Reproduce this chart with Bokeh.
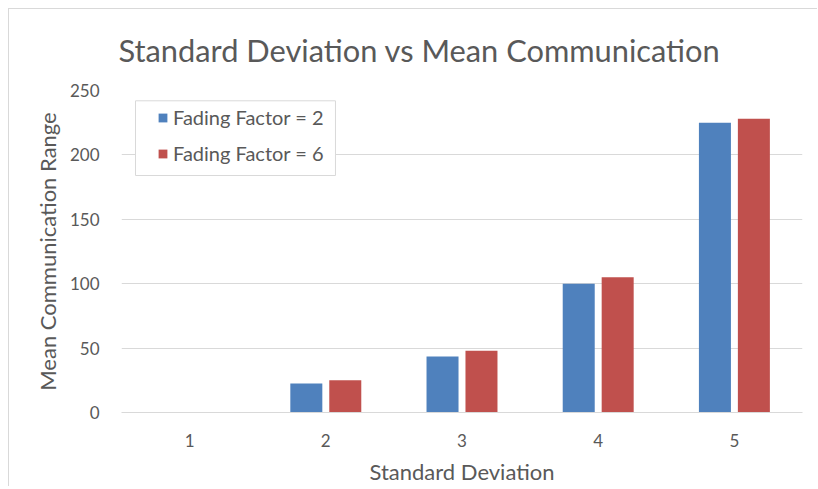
from bokeh.plotting import figure
from bokeh.models import FactorRange, Range1d, Legend, LegendItem, ColumnDataSource, BoxAnnotation
from bokeh.transform import dodge
from bokeh.embed import file_html
from bokeh.resources import INLINE

categories = ["1", "2", "3", "4", "5"]
fading_2 = [0, 22.5, 43.5, 100, 225]
fading_6 = [0, 25, 48, 105, 228]
series_names = ["Fading Factor = 2", "Fading Factor = 6"]
y_ticks = [0, 50, 100, 150, 200, 250]
title_text = "Standard Deviation vs Mean Communication"

FONT = "Lato"
GRAY = "#595959"

src = ColumnDataSource(dict(cat=categories, a=fading_2, b=fading_6))

p = figure(width=809, height=478, x_range=FactorRange(*categories, range_padding=0),
           y_range=Range1d(0, 250), output_backend="svg", toolbar_location=None,
           min_border_left=112, min_border_right=16, min_border_top=81, min_border_bottom=67)

p.title.text = title_text
p.title.align = "left"
p.title.vertical_align = "top"
p.title.offset = -3
p.title.standoff = 39
p.title.text_font = FONT
p.title.text_font_size = "30.8px"
p.title.text_font_style = "normal"
p.title.text_color = GRAY

r1 = p.vbar(x=dodge("cat", -0.143, range=p.x_range), top="a", width=0.235, source=src,
            fill_color="#4F81BD", line_color=None)
r2 = p.vbar(x=dodge("cat", 0.143, range=p.x_range), top="b", width=0.235, source=src,
            fill_color="#C0504D", line_color=None)

p.outline_line_color = None
p.xgrid.grid_line_color = None
p.ygrid.grid_line_color = "#d9d9d9"
p.ygrid.ticker = y_ticks
p.yaxis.ticker = y_ticks

for ax in (p.xaxis, p.yaxis):
    ax.major_tick_line_color = None
    ax.minor_tick_line_color = None
    ax.major_label_text_font = FONT
    ax.major_label_text_font_size = "17px"
    ax.major_label_text_color = GRAY
    ax.axis_label_text_font = FONT
    ax.axis_label_text_font_size = "22px"
    ax.axis_label_text_font_style = "normal"
    ax.axis_label_text_color = GRAY
p.yaxis.axis_line_color = None
p.xaxis.axis_line_color = "#d9d9d9"
p.xaxis.axis_label = "Standard Deviation"
p.yaxis.axis_label = "Mean Communication Range"
p.xaxis.major_label_standoff = 15
p.yaxis.major_label_standoff = 16
p.xaxis.axis_label_standoff = 8
p.yaxis.axis_label_standoff = 6

# legend frame (white box with light border)
box = BoxAnnotation(left=0.103, right=1.571, bottom=184, top=242,
                    fill_color="white", fill_alpha=1,
                    line_color="#d9d9d9", line_width=1, line_alpha=1)
p.add_layout(box)

legend = Legend(items=[LegendItem(label=series_names[0], renderers=[r1]),
                       LegendItem(label=series_names[1], renderers=[r2])],
                location=(36, 247))
legend.border_line_color = None
legend.background_fill_alpha = 0
legend.label_text_font = FONT
legend.label_text_font_size = "20px"
legend.label_text_color = GRAY
legend.glyph_width = 11
legend.glyph_height = 11
legend.label_height = 20
legend.spacing = 12
legend.padding = 0
legend.margin = 0
legend.label_standoff = 5
p.add_layout(legend)

p.styles = {"margin-left": "8px", "margin-top": "8px",
            "border-left": "1px solid #d9d9d9", "border-top": "1px solid #d9d9d9"}

open("out.html", "w").write(file_html(p, INLINE))
